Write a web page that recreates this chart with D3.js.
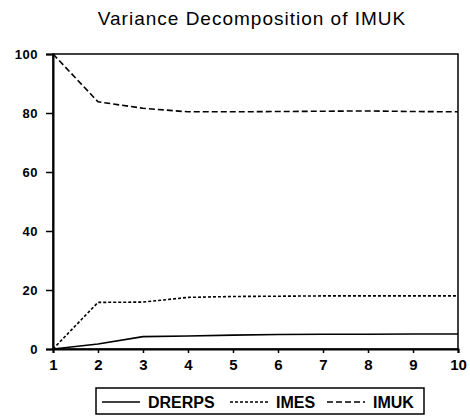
<!DOCTYPE html>
<html>
<head>
<meta charset="utf-8">
<script src="https://cdn.jsdelivr.net/npm/d3@7"></script>
<style>
body { margin: 0; background: #fff; }
text { font-family: Arial, "Liberation Sans", sans-serif; }
</style>
</head>
<body>
<script>
var width = 470
var height = 416

var periods = [1, 2, 3, 4, 5, 6, 7, 8, 9, 10]
var drerps = [0, 1.7, 4.2, 4.4, 4.7, 4.9, 5.0, 5.0, 5.1, 5.1]
var imes = [0, 15.8, 15.9, 17.5, 17.8, 17.9, 18.0, 18.0, 18.0, 18.0]
var imuk = [100, 83.8, 81.6, 80.4, 80.4, 80.5, 80.6, 80.7, 80.5, 80.4]
var yTicks = [0, 20, 40, 60, 80, 100]
var seriesNames = ['DRERPS', 'IMES', 'IMUK']

var svg = d3.select('body')
			.append('svg')
			.attr('width', width)
			.attr('height', height)

var x = d3.scaleLinear().domain([1, 10]).range([53, 458])
var y = d3.scaleLinear().domain([0, 100]).range([349, 54])

svg.append('text')
	.attr('x', 252)
	.attr('y', 25)
	.attr('text-anchor', 'middle')
	.attr('font-size', 19)
	.attr('letter-spacing', 1)
	.text('Variance Decomposition of IMUK')

// frame
svg.append('rect')
	.attr('x', x(1))
	.attr('y', y(100))
	.attr('width', x(10) - x(1))
	.attr('height', y(0) - y(100))
	.attr('fill', 'none')
	.attr('stroke', '#000')
	.attr('stroke-width', 1.5)

var xAxis = svg.append('g')
	.attr('transform', 'translate(0,' + y(0) + ')')
	.call(d3.axisBottom(x).tickValues(periods).tickSize(4).tickPadding(6).tickFormat(d3.format('d')))

var yAxis = svg.append('g')
	.attr('transform', 'translate(' + x(1) + ',0)')
	.call(d3.axisLeft(y).tickValues(yTicks).tickSize(7).tickPadding(8))

svg.selectAll('.domain').attr('stroke-width', 2)
svg.selectAll('.tick line').attr('stroke-width', 1.5)
svg.selectAll('.tick text')
	.attr('font-weight', 'bold')
	.attr('font-family', 'Arial, "Liberation Sans", sans-serif')
	.attr('fill', '#000')
xAxis.selectAll('.tick text').attr('font-size', 15)
yAxis.selectAll('.tick text').attr('font-size', 13).attr('letter-spacing', 0.5)

var dashes = ['none', '3,2', '6,3']
var allSeries = [drerps, imes, imuk]

var line = d3.line()
	.x(function(d, i){ return x(periods[i]) })
	.y(function(d){ return y(d) })

svg.selectAll('path.series')
	.data(allSeries)
	.enter()
	.append('path')
	.attr('class', 'series')
	.attr('fill', 'none')
	.attr('stroke', '#000')
	.attr('stroke-width', 1.6)
	.attr('stroke-dasharray', function(d, i){ return dashes[i] })
	.attr('d', line)

// legend
var legend = svg.append('g')
legend.append('rect')
	.attr('x', 96)
	.attr('y', 388)
	.attr('width', 328)
	.attr('height', 26)
	.attr('fill', 'none')
	.attr('stroke', '#000')
	.attr('stroke-width', 1.5)

var legendX = [102, 230, 327]
var items = legend.selectAll('g.item')
	.data(seriesNames)
	.enter()
	.append('g')
	.attr('class', 'item')
	.attr('transform', function(d, i){ return 'translate(' + legendX[i] + ',402)' })

items.append('line')
	.attr('x1', 0)
	.attr('x2', 38)
	.attr('stroke', '#000')
	.attr('stroke-width', 1.6)
	.attr('stroke-dasharray', function(d, i){ return dashes[i] })

items.append('text')
	.attr('x', 46)
	.attr('dy', '0.36em')
	.attr('font-size', 16)
	.attr('font-weight', 'bold')
	.text(function(d){ return d })
</script>
</body>
</html>
